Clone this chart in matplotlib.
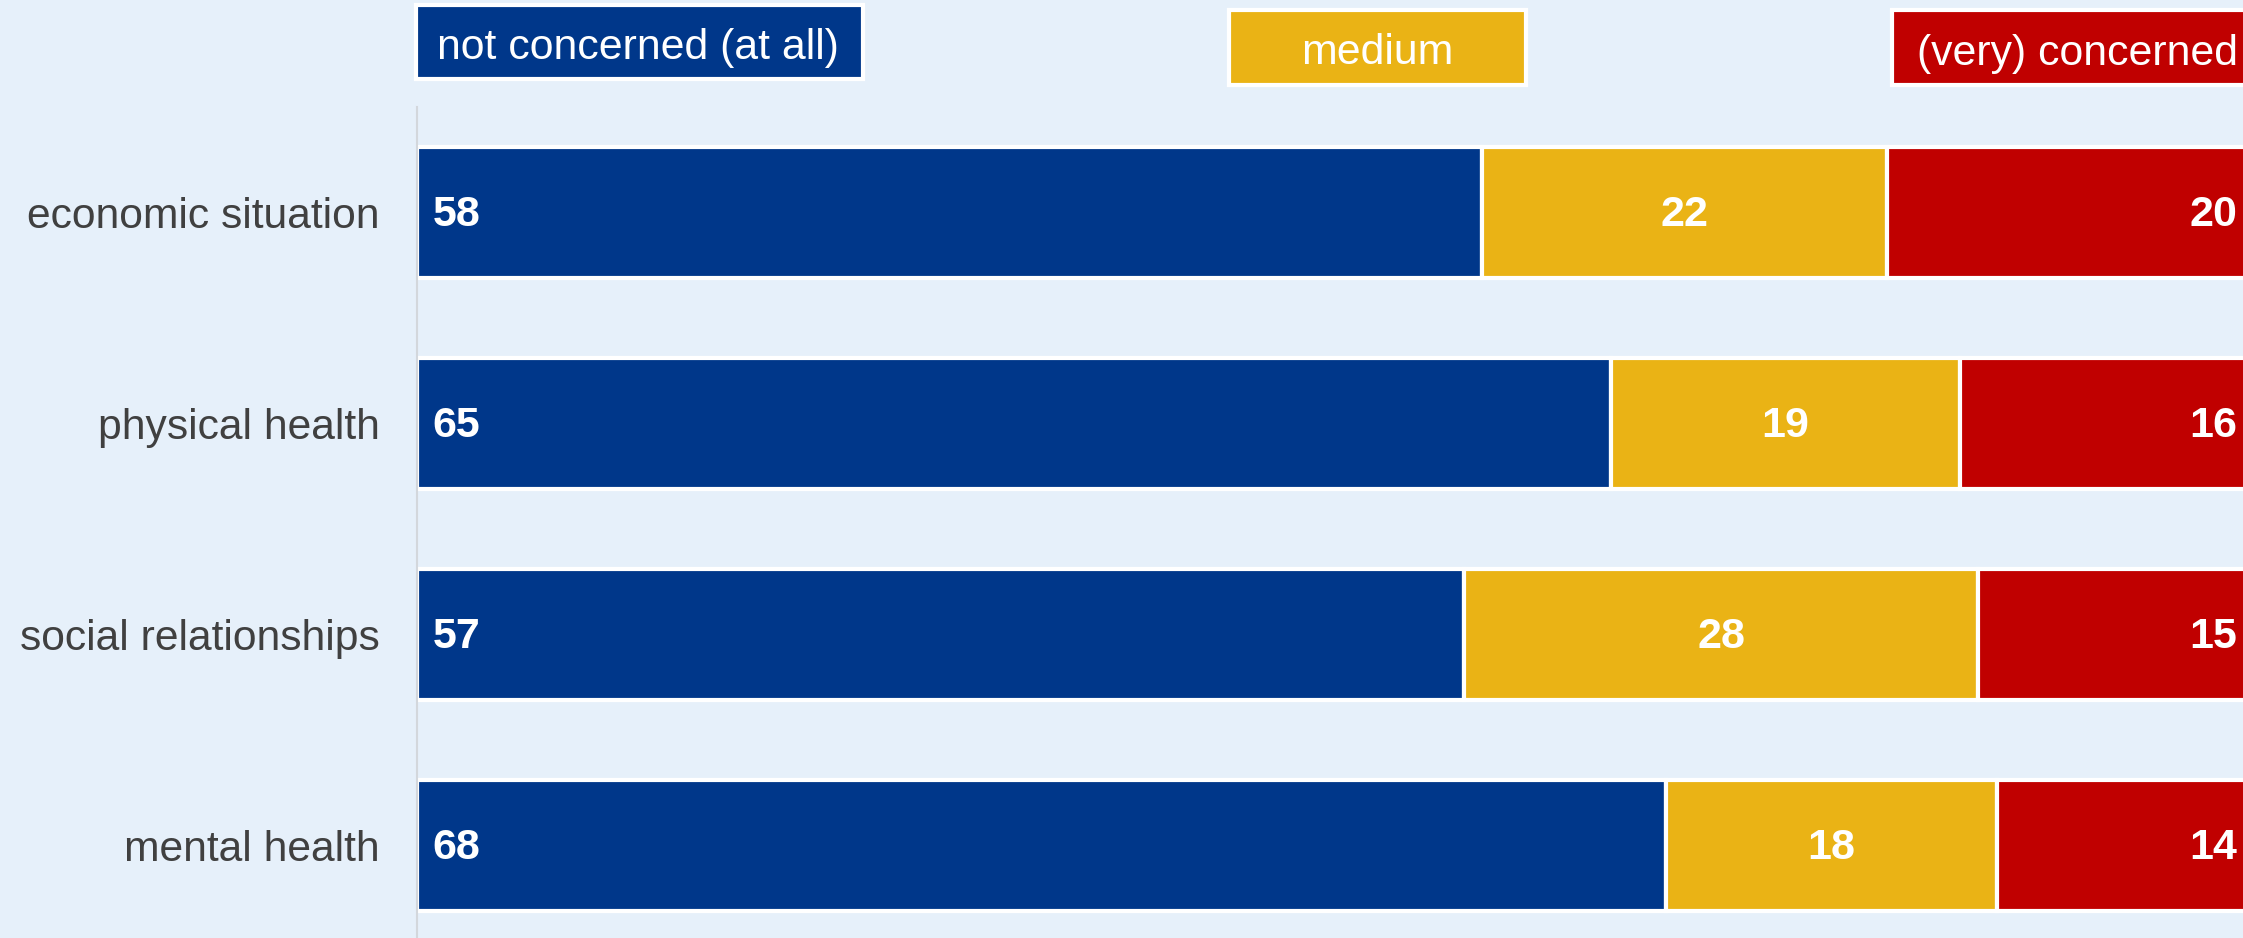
import matplotlib.pyplot as plt
from matplotlib.patches import Rectangle
from matplotlib.transforms import blended_transform_factory

plt.rcParams['font.family'] = ['Liberation Sans', 'DejaVu Sans']

# data
categories = ['economic situation', 'physical health', 'social relationships', 'mental health']
not_concerned = [58, 65, 57, 68]
medium = [22, 19, 28, 18]
concerned = [20, 16, 15, 14]
series_names = ['not concerned (at all)', 'medium', '(very) concerned']

bg = '#E6F0FA'
c_blue = '#00378A'
c_gold = '#EAB315'
c_red = '#C00000'

W, H = 2243, 938
fig = plt.figure(figsize=(W / 100, H / 100), dpi=100, facecolor=bg)
ax = fig.add_axes([417 / W, 0, 1 - 417 / W, 1 - 107 / H])
ax.set_facecolor(bg)

y = list(range(len(categories)))
left2 = [a + b for a, b in zip(not_concerned, medium)]
kw = dict(height=0.62, edgecolor='white', linewidth=3)
ax.barh(y, not_concerned, color=c_blue, **kw)
ax.barh(y, medium, left=not_concerned, color=c_gold, **kw)
ax.barh(y, concerned, left=left2, color=c_red, **kw)

ax.set_xlim(0, 100 * (W - 417) / 1837)
ax.set_ylim(3.44, -0.5)
ax.set_yticks(y)
ax.set_yticklabels(categories, fontsize=30.7, color='#404040')
ax.tick_params(axis='y', length=0, pad=27)
ax.set_xticks([])
for s in ['top', 'right', 'bottom']:
    ax.spines[s].set_visible(False)
ax.spines['left'].set_color('#D3D7DC')
ax.spines['left'].set_linewidth(1.5)

# value labels, nudged a little below centre like the original
lbl = dict(fontsize=31, fontweight='bold', color='white', va='center',
           textcoords='offset points')
trans = blended_transform_factory(ax.transAxes, ax.transData)
for i in y:
    ax.annotate(str(not_concerned[i]), (0, i), xytext=(11, -2), ha='left', **lbl)
    ax.annotate(str(medium[i]), (not_concerned[i] + medium[i] / 2, i),
                xytext=(0, -2), ha='center', **lbl)
    ax.annotate(str(concerned[i]), (1, i), xycoords=trans,
                xytext=(-4, -2), ha='right', **lbl)

# legend boxes drawn in pixel coordinates
boxes = [
    (416, 5, 447, 74, c_blue, 437, 'left'),
    (1229, 10, 297, 75, c_gold, 1377, 'center'),
    (1892, 10, 400, 75, c_red, 1917, 'left'),
]
for (x0, y0, w, h, col, tx, ha), name in zip(boxes, series_names):
    fig.patches.append(Rectangle((x0 / W, 1 - (y0 + h) / H), w / W, h / H,
                                 transform=fig.transFigure, facecolor=col,
                                 edgecolor='white', linewidth=3))
    fig.text(tx / W, 1 - (y0 + h / 2 + 6) / H, name, fontsize=30.8, color='white',
             ha=ha, va='center')

fig.savefig('out.png', dpi=100, facecolor=bg)
